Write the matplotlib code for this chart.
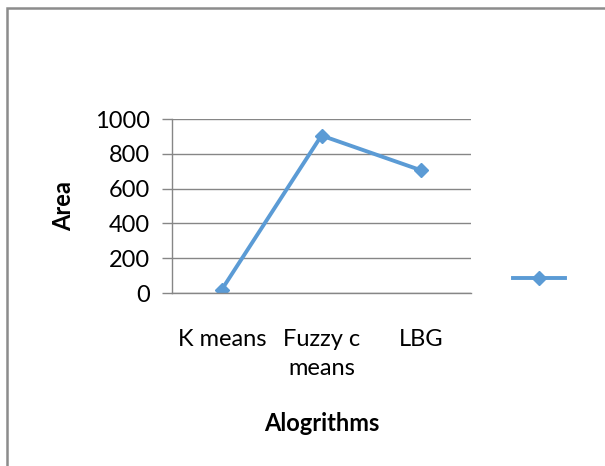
import matplotlib
matplotlib.use("Agg")
import matplotlib.pyplot as plt
from matplotlib.patches import Rectangle

# values
algorithms = ["K means", "Fuzzy c\nmeans", "LBG"]
area = [20, 905, 705]
yticks = [0, 200, 400, 600, 800, 1000]

blue = "#5B9BD5"
gray = "#868686"

plt.rcParams['font.family'] = ['Lato', 'DejaVu Sans']

fig = plt.figure(figsize=(6.05, 4.66), dpi=100)
# outer chart frame (only left and top edges fall inside the picture)
fig.patches.append(Rectangle((7/605, -0.05), 1.2, 1 - 8/466 + 0.05, transform=fig.transFigure,
                             fill=False, edgecolor="#8c8c8c", linewidth=1.8))

ax = fig.add_axes([172/605, 1 - 293/466, 299/605, 174/466])
xs = range(len(algorithms))
line, = ax.plot(xs, area, color=blue, linewidth=2.8, marker="D", markersize=7,
                markeredgecolor=blue, markerfacecolor=blue)

ax.set_xlim(-0.5, len(algorithms) - 0.5)
ax.set_ylim(0, 1000)
ax.set_yticks(yticks)
ax.set_xticks(list(xs))
ax.set_xticklabels(algorithms, fontsize=17, linespacing=1.45)
ax.tick_params(axis="y", labelsize=17, length=7, width=1, color=gray, pad=9)
ax.tick_params(axis="x", length=0, pad=26)
ax.yaxis.grid(True, color=gray, linewidth=1)
ax.set_axisbelow(True)
for s in ["top", "right"]:
    ax.spines[s].set_visible(False)
for s in ["left", "bottom"]:
    ax.spines[s].set_color(gray)
    ax.spines[s].set_linewidth(1)

ax.set_ylabel("Area", fontsize=17, fontweight="bold", labelpad=14)
ax.set_xlabel("Alogrithms", fontsize=17, fontweight="bold", labelpad=24)

fig.legend([line], [""], loc="center", bbox_to_anchor=(539/605, 1 - 279/466),
           frameon=False, handlelength=3.8, numpoints=1, fontsize=10,
           handletextpad=0)

fig.savefig("out.png", dpi=100)
